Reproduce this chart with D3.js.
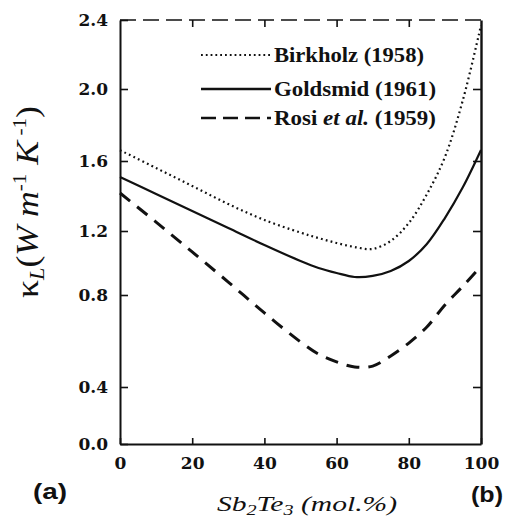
<!DOCTYPE html>
<html>
<head>
<meta charset="utf-8">
<script src="https://cdn.jsdelivr.net/npm/d3@7"></script>
<style>
  html, body { margin: 0; padding: 0; background: #fff; }
  svg { display: block; }
</style>
</head>
<body>
<svg id="chart" width="521" height="523"></svg>
<script>
// ---- data ----
const composition = [0, 10, 20, 30, 40, 50, 55, 60, 65, 70, 75, 80, 85, 90, 95, 100];
const birkholz = [1.66, 1.56, 1.457, 1.354, 1.263, 1.19, 1.156, 1.125, 1.10, 1.088, 1.138, 1.246, 1.41, 1.622, 1.94, 2.37];
const goldsmid = [1.509, 1.411, 1.314, 1.217, 1.1125, 1.0125, 0.969, 0.9375, 0.9125, 0.919, 0.95, 1.0125, 1.119, 1.274, 1.451, 1.661];
const rosi = [1.417, 1.251, 1.069, 0.881, 0.722, 0.596, 0.543, 0.509, 0.487, 0.491, 0.535, 0.591, 0.661, 0.757, 0.856, 0.981];
const xTicks = [0, 20, 40, 60, 80, 100];
const yTicks = [0.0, 0.4, 0.8, 1.2, 1.6, 2.0, 2.4];
const seriesNames = ["Birkholz (1958)", "Goldsmid (1961)", "Rosi et al. (1959)"];

const SERIF = "'Liberation Serif', 'Times New Roman', serif";
const WSERIF = "'DejaVu Serif', 'Liberation Serif', serif";
const SANS = "'Liberation Sans', Arial, sans-serif";

const svg = d3.select("#chart");

// the original figure's y axis is not evenly spaced: map each tick to where it sits
const x = d3.scaleLinear().domain([0, 100]).range([120, 481]);
const y = d3.scaleLinear().domain(yTicks).range([444, 387, 295, 231, 161, 89, 20]);

const ink = "#111";

// top border (broken/dashed in the scan)
svg.append("line").attr("x1", 120).attr("x2", 481).attr("y1", y(2.4)).attr("y2", y(2.4))
  .attr("stroke", ink).attr("stroke-width", 1.4).attr("stroke-dasharray", "16,7");

// left axis
const gl = svg.append("g").attr("transform", `translate(${x(0)},0)`)
  .call(d3.axisLeft(y).tickValues(yTicks).tickFormat(d3.format(".1f")).tickSizeInner(-8).tickSizeOuter(0).tickPadding(12));
// bottom axis
const gb = svg.append("g").attr("transform", `translate(0,${y(0)})`)
  .call(d3.axisBottom(x).tickValues(xTicks).tickFormat(d3.format("d")).tickSizeInner(-6).tickSizeOuter(0).tickPadding(13));
// right axis
const gr = svg.append("g").attr("transform", `translate(${x(100)},0)`)
  .call(d3.axisRight(y).tickValues(yTicks.slice(1, -1)).tickFormat("").tickSizeInner(-8).tickSizeOuter(0));
// top ticks
const gt = svg.append("g").attr("transform", `translate(0,${y(2.4)})`)
  .call(d3.axisTop(x).tickValues(xTicks.slice(1, -1)).tickFormat("").tickSizeInner(-7).tickSizeOuter(0));
gt.select(".domain").remove();

[gl, gb, gr, gt].forEach(g => {
  g.selectAll(".domain").attr("stroke", ink).attr("stroke-width", 2);
  g.selectAll(".tick line").attr("stroke", ink).attr("stroke-width", 1.6);
});
gr.select(".domain").attr("stroke-width", 2.4);
gl.selectAll(".tick text").style("font-family", WSERIF).style("font-weight", "bold")
  .style("font-size", "17px").attr("fill", ink);
gb.selectAll(".tick text").style("font-family", WSERIF).style("font-weight", "bold")
  .style("font-size", "17px").attr("fill", ink);

// curves
const line = d3.line()
  .x((d, i) => x(composition[i]))
  .y(d => y(d))
  .curve(d3.curveCatmullRom.alpha(0.5));

const styles = [
  { data: birkholz, width: 2.2, dash: "1.8,3.2" },
  { data: goldsmid, width: 2.2, dash: null },
  { data: rosi, width: 3, dash: "13,9" }
];
styles.forEach(s => {
  svg.append("path").datum(s.data).attr("d", line)
    .attr("fill", "none").attr("stroke", ink).attr("stroke-width", s.width)
    .attr("stroke-dasharray", s.dash);
});

// legend
const legY = [55, 89, 118];
const legLen = [150, 162, 162];
const legLine = d3.line();
styles.forEach((s, i) => {
  svg.append("path").attr("d", legLine([[201, legY[i]], [271, legY[i]]]))
    .attr("stroke", ink).attr("stroke-width", i === 0 ? 2 : 2.4)
    .attr("stroke-dasharray", i === 0 ? "1.8,3" : (i === 2 ? "15,7" : null))
    .attr("fill", "none");
});
function legText(i) {
  return svg.append("text").attr("x", 274).attr("y", legY[i]).attr("dy", "0.35em")
    .style("font-family", SERIF).style("font-size", "21px").style("font-weight", "bold")
    .attr("textLength", legLen[i]).attr("lengthAdjust", "spacingAndGlyphs")
    .attr("fill", ink);
}
legText(0).text(seriesNames[0]);
legText(1).text(seriesNames[1]);
const t3 = legText(2);
t3.append("tspan").text("Rosi ");
t3.append("tspan").style("font-style", "italic").text("et al.");
t3.append("tspan").text(" (1959)");

// x axis title
const xt = svg.append("text").attr("x", 307).attr("y", 511).attr("text-anchor", "middle")
  .style("font-family", SERIF).style("font-style", "italic").style("font-size", "22px")
  .attr("textLength", 180).attr("lengthAdjust", "spacingAndGlyphs").attr("fill", ink);
xt.append("tspan").text("Sb");
xt.append("tspan").style("font-size", "15px").attr("dy", 4).text("2");
xt.append("tspan").attr("dy", -4).text("Te");
xt.append("tspan").style("font-size", "15px").attr("dy", 4).text("3");
xt.append("tspan").attr("dy", -4).text(" (mol.%)");

// y axis title
const yt = svg.append("text").attr("transform", "translate(38,202) rotate(-90)").attr("text-anchor", "middle")
  .style("font-family", SERIF).style("font-size", "32px")
  .attr("textLength", 192).attr("lengthAdjust", "spacingAndGlyphs").attr("fill", ink);
yt.append("tspan").text("κ");
yt.append("tspan").style("font-size", "20px").style("font-style", "italic").attr("dy", 6).text("L");
yt.append("tspan").attr("dy", -6).text("(");
yt.append("tspan").style("font-style", "italic").text("W m");
yt.append("tspan").style("font-size", "19px").attr("dy", -12).text("-1");
yt.append("tspan").style("font-style", "italic").attr("dy", 12).text(" K");
yt.append("tspan").style("font-size", "19px").attr("dy", -12).text(" -1");
yt.append("tspan").attr("dy", 12).text(")");

// panel marks
svg.append("text").attr("x", 50).attr("y", 499).attr("text-anchor", "middle")
  .style("font-family", SANS).style("font-weight", "bold").style("font-size", "22px")
  .attr("textLength", 34).attr("lengthAdjust", "spacingAndGlyphs").attr("fill", ink).text("(a)");
svg.append("text").attr("x", 487).attr("y", 502).attr("text-anchor", "middle")
  .style("font-family", SANS).style("font-weight", "bold").style("font-size", "22px")
  .attr("textLength", 32).attr("lengthAdjust", "spacingAndGlyphs").attr("fill", ink).text("(b)");
</script>
</body>
</html>
